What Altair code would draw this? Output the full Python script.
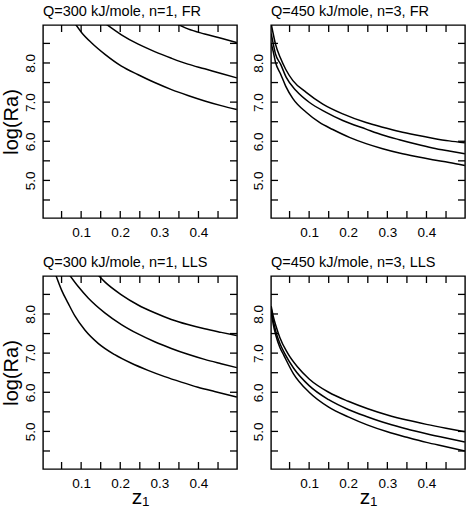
import altair as alt
import pandas as pd

# ---- Q=300 kJ/mole, n=1, FR ----
fr300_lo_x = [0.085, 0.101, 0.127, 0.161, 0.203, 0.246, 0.288, 0.331, 0.373, 0.416, 0.458, 0.498]
fr300_lo_y = [9.00, 8.78, 8.51, 8.22, 7.92, 7.70, 7.50, 7.32, 7.17, 7.03, 6.91, 6.81]
fr300_mid_x = [0.163, 0.203, 0.246, 0.288, 0.331, 0.373, 0.416, 0.458, 0.498]
fr300_mid_y = [9.00, 8.72, 8.48, 8.29, 8.12, 7.97, 7.85, 7.73, 7.62]
fr300_hi_x = [0.345, 0.373, 0.416, 0.458, 0.498]
fr300_hi_y = [9.00, 8.87, 8.74, 8.63, 8.52]

# ---- Q=450 kJ/mole, n=3, FR ----
fr450_lo_x = [0.003, 0.008, 0.014, 0.027, 0.040, 0.0585, 0.0925, 0.1265, 0.1605, 0.203, 0.2456, 0.288, 0.3306, 0.373, 0.4157, 0.458, 0.498]
fr450_lo_y = [8.50, 8.30, 8.02, 7.72, 7.41, 7.09, 6.74, 6.48, 6.30, 6.10, 5.94, 5.81, 5.70, 5.61, 5.53, 5.46, 5.38]
fr450_mid_x = [0.003, 0.008, 0.014, 0.027, 0.0415, 0.067, 0.101, 0.1435, 0.186, 0.2456, 0.288, 0.3306, 0.373, 0.4157, 0.458, 0.498]
fr450_mid_y = [8.75, 8.50, 8.23, 7.97, 7.63, 7.29, 6.99, 6.74, 6.53, 6.31, 6.16, 6.04, 5.93, 5.83, 5.75, 5.68]
fr450_hi_x = [0.003, 0.007, 0.014, 0.027, 0.040, 0.0585, 0.0925, 0.135, 0.186, 0.2456, 0.288, 0.3306, 0.373, 0.4157, 0.458, 0.498]
fr450_hi_y = [9.00, 8.80, 8.48, 8.12, 7.84, 7.55, 7.25, 6.95, 6.70, 6.48, 6.36, 6.25, 6.16, 6.08, 6.01, 5.96]

# ---- Q=300 kJ/mole, n=1, LLS ----
lls300_lo_x = [0.035, 0.050, 0.067, 0.084, 0.1095, 0.1435, 0.186, 0.2286, 0.271, 0.3136, 0.356, 0.3986, 0.441, 0.498]
lls300_lo_y = [9.00, 8.61, 8.27, 7.95, 7.59, 7.25, 6.96, 6.74, 6.56, 6.40, 6.26, 6.13, 6.02, 5.88]
lls300_mid_x = [0.070, 0.0925, 0.118, 0.1605, 0.203, 0.2456, 0.288, 0.3306, 0.373, 0.4157, 0.458, 0.498]
lls300_mid_y = [9.00, 8.70, 8.41, 8.03, 7.73, 7.49, 7.29, 7.12, 6.97, 6.84, 6.73, 6.63]
lls300_hi_x = [0.143, 0.1605, 0.203, 0.2456, 0.288, 0.3306, 0.373, 0.4157, 0.458, 0.498]
lls300_hi_y = [9.00, 8.82, 8.49, 8.23, 8.03, 7.86, 7.73, 7.62, 7.53, 7.45]

# ---- Q=450 kJ/mole, n=3, LLS ----
lls450_lo_x = [0.003, 0.008, 0.015, 0.025, 0.035, 0.060, 0.100, 0.150, 0.200, 0.250, 0.300, 0.350, 0.400, 0.450, 0.498]
lls450_lo_y = [8.05, 7.75, 7.45, 7.15, 6.95, 6.47, 6.00, 5.62, 5.37, 5.16, 4.99, 4.85, 4.72, 4.61, 4.50]
lls450_mid_x = [0.003, 0.008, 0.015, 0.025, 0.037, 0.060, 0.100, 0.150, 0.200, 0.250, 0.300, 0.350, 0.400, 0.450, 0.498]
lls450_mid_y = [8.15, 7.85, 7.55, 7.25, 7.00, 6.62, 6.17, 5.81, 5.56, 5.37, 5.20, 5.06, 4.94, 4.83, 4.73]
lls450_hi_x = [0.003, 0.008, 0.015, 0.025, 0.045, 0.070, 0.100, 0.150, 0.200, 0.250, 0.300, 0.350, 0.400, 0.450, 0.498]
lls450_hi_y = [8.20, 7.95, 7.70, 7.40, 7.00, 6.65, 6.34, 6.00, 5.77, 5.58, 5.42, 5.29, 5.18, 5.08, 4.99]

# tick positions on all four sides (labels only on every other tick)
x_ticks = [0.05, 0.10, 0.15, 0.20, 0.25, 0.30, 0.35, 0.40, 0.45]
y_ticks = [4.5, 5.0, 5.5, 6.0, 6.5, 7.0, 7.5, 8.0, 8.5]

X_DOMAIN = [0.0025, 0.4985]
Y_DOMAIN = [4.04, 8.97]

FONT = "Liberation Sans"
TICK = 7
PANEL_W = 194
PANEL_H = 193


def curves(xs_list, ys_list):
    frames = []
    for i, (xs, ys) in enumerate(zip(xs_list, ys_list)):
        frames.append(pd.DataFrame({"curve": i, "z1": xs, "logRa": ys}))
    return pd.concat(frames, ignore_index=True)


x_tick_df = pd.DataFrame({"z1": x_ticks})
y_tick_df = pd.DataFrame({"logRa": y_ticks})


def panel(df, title, y_title, x_title):
    xscale = alt.Scale(domain=X_DOMAIN, nice=False, zero=False)
    yscale = alt.Scale(domain=Y_DOMAIN, nice=False, zero=False)

    common = dict(grid=False, domain=False, ticks=False, tickSize=0,
                  labelFont=FONT, labelFontSize=13.5, labelColor="black",
                  titleFont=FONT, titleColor="black", titleFontWeight="normal")

    bottom_kw = dict(common, orient="bottom", values=x_ticks,
                     labelExpr="(round(datum.value*20) % 2 == 0) ? format(datum.value, '.1f') : ''",
                     labelBaseline="top", labelPadding=7, labelFlush=False)
    if x_title:
        bottom_kw.update(title="z₁", titleFontSize=21, titleBaseline="alphabetic", titlePadding=14)
    else:
        bottom_kw.update(title=None)

    left_kw = dict(common, orient="left", values=y_ticks,
                   labelExpr="(round(datum.value*2) % 2 == 0) ? format(datum.value, '.1f') : ''",
                   labelAngle=270, labelAlign="center", labelBaseline="alphabetic",
                   labelPadding=9, labelFlush=False)
    if y_title:
        left_kw.update(title="log(Ra)", titleFontSize=20, titlePadding=2)
    else:
        left_kw.update(title=None)

    x_enc = alt.X("z1:Q", scale=xscale, axis=alt.Axis(**bottom_kw))
    y_enc = alt.Y("logRa:Q", scale=yscale, axis=alt.Axis(**left_kw))

    lines = alt.Chart(df).mark_line(
        color="black", strokeWidth=1.5, clip=True, interpolate="monotone"
    ).encode(x=x_enc, y=y_enc, detail="curve:N")

    # short inward ticks along all four sides of the frame
    xt = alt.Chart(x_tick_df)
    yt = alt.Chart(y_tick_df)
    tick = dict(color="black", thickness=1.3, size=TICK, opacity=1)
    top_ticks = xt.mark_tick(**tick).encode(x=x_enc, y=alt.value(TICK / 2))
    bottom_ticks = xt.mark_tick(**tick).encode(x=x_enc, y=alt.value(PANEL_H - TICK / 2))
    left_ticks = yt.mark_tick(**tick).encode(y=y_enc, x=alt.value(TICK / 2))
    right_ticks = yt.mark_tick(**tick).encode(y=y_enc, x=alt.value(PANEL_W - TICK / 2))

    return alt.layer(
        lines, top_ticks, bottom_ticks, left_ticks, right_ticks
    ).properties(
        width=PANEL_W,
        height=PANEL_H,
        title=alt.TitleParams(title, anchor="start", frame="group", font=FONT,
                              fontSize=14.5, fontWeight="normal", color="black",
                              baseline="bottom", offset=-8),
    )


p1 = panel(curves([fr300_lo_x, fr300_mid_x, fr300_hi_x], [fr300_lo_y, fr300_mid_y, fr300_hi_y]),
           "Q=300 kJ/mole, n=1, FR", True, False)
p2 = panel(curves([fr450_lo_x, fr450_mid_x, fr450_hi_x], [fr450_lo_y, fr450_mid_y, fr450_hi_y]),
           "Q=450 kJ/mole, n=3, FR", False, False)
p3 = panel(curves([lls300_lo_x, lls300_mid_x, lls300_hi_x], [lls300_lo_y, lls300_mid_y, lls300_hi_y]),
           "Q=300 kJ/mole, n=1, LLS", True, True)
p4 = panel(curves([lls450_lo_x, lls450_mid_x, lls450_hi_x], [lls450_lo_y, lls450_mid_y, lls450_hi_y]),
           "Q=450 kJ/mole, n=3, LLS", False, True)

# 2x2 grid laid out by the plot areas: 34 px between columns, 58 px between rows
chart = alt.concat(
    p1, p2, p3, p4,
    columns=2,
    spacing={"row": 58, "column": 34},
    bounds="flush",
).properties(
    padding={"left": 0, "top": 2, "right": 4, "bottom": 2},
    background="white",
).configure_view(
    stroke="black", strokeWidth=1.4
)

chart.save("out.html", embed_options={"renderer": "svg", "actions": False})
